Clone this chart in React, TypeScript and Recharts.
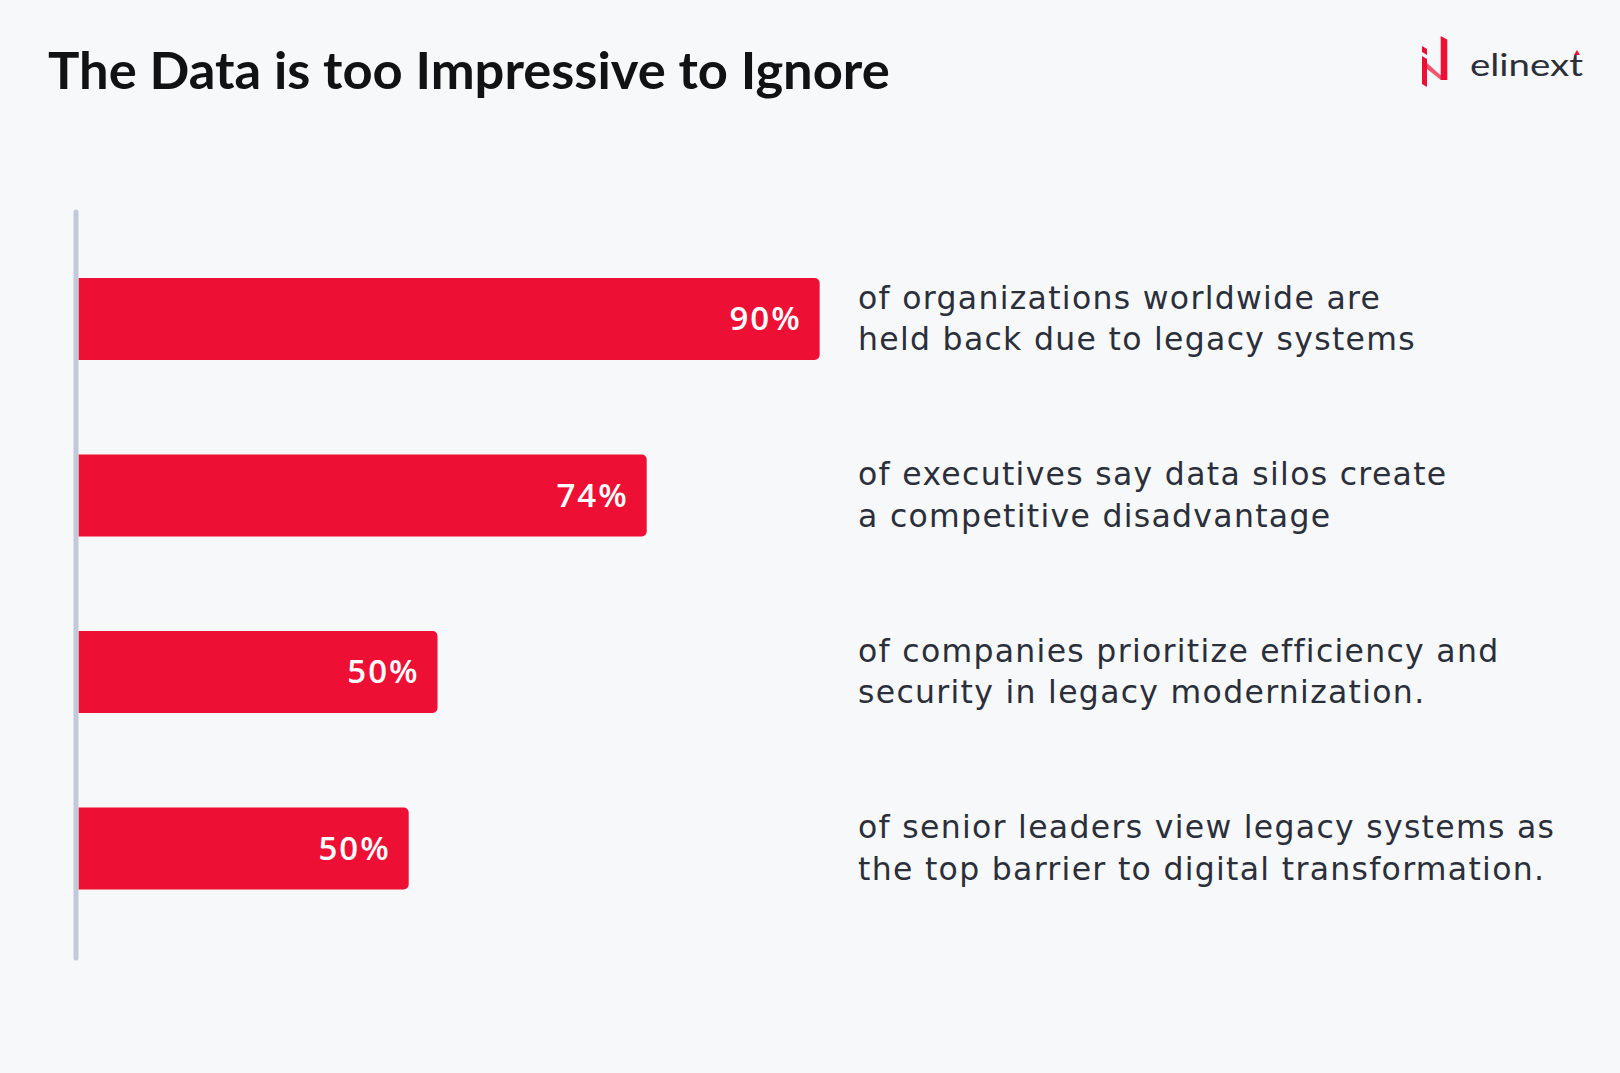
import React from "react";
import { BarChart, Bar, XAxis, YAxis, LabelList } from "recharts";

// values (bar lengths on a 0-100 scale) and the printed labels
const categories = ["organizations", "executives", "companies", "senior leaders"];
const barValues = [90, 69, 43.6, 40.1];
const percentLabels = ["90%", "74%", "50%", "50%"];
const firstLines = [
  "of organizations worldwide are",
  "of executives say data silos create",
  "of companies prioritize efficiency and",
  "of senior leaders view legacy systems as",
];
const secondLines = [
  "held back due to legacy systems",
  "a competitive disadvantage",
  "security in legacy modernization.",
  "the top barrier to digital transformation.",
];

const data = categories.map((name, i) => ({
  name,
  value: barValues[i],
  label: percentLabels[i],
  line1: firstLines[i],
  line2: secondLines[i],
}));

const BG = "#F7F8FA";
const RED = "#EE0F35";
const TEXT = "#2B2F3A";
const LABEL_FONT = "'Open Sans', 'Noto Sans', sans-serif";
const DESC_FONT = "'DejaVu Sans', 'Noto Sans', sans-serif";
const DESC_X = 858;

const PercentLabel = (props: any) => {
  const { x, y, width, height, value } = props;
  return (
    <text
      x={x + width - 18}
      y={y + height / 2 + 11}
      textAnchor="end"
      fill="#fff"
      fontSize={33}
      fontWeight={600}
      letterSpacing={2}
      fontFamily={LABEL_FONT}
    >
      {value}
    </text>
  );
};

const descLabel = (dy: number) => (props: any) => {
  const { y, height, value } = props;
  return (
    <text
      x={DESC_X}
      y={y + height / 2 + dy}
      fill={TEXT}
      fontSize={31.5}
      letterSpacing={1.3}
      fontFamily={DESC_FONT}
    >
      {value}
    </text>
  );
};

const Logo = () => (
  <svg
    width={180}
    height={70}
    style={{ position: "absolute", left: 1415, top: 28 }}
  >
    {/* mark */}
    <polygon points="7,18 12,21 12,27 7,24" fill={RED} />
    <polygon points="7,28 12,31 12,59 7,56" fill={RED} />
    <polygon points="12,35 12,41 26,52 31,52" fill="#F4566F" />
    <polygon points="25.7,8 32.3,11.5 32.3,52 25.7,52" fill={RED} />
    {/* wordmark */}
    <text
      x={55}
      y={48}
      fontSize={31}
      fill={TEXT}
      fontFamily="Lato, 'Noto Sans', sans-serif"
      textLength={113}
      lengthAdjust="spacingAndGlyphs"
    >
      elinext
    </text>
    <polygon points="159,27 165,27 162,22" fill={RED} />
  </svg>
);

export default function App() {
  return (
    <div
      style={{
        position: "absolute",
        left: 0,
        top: 0,
        width: 1620,
        height: 1073,
        background: BG,
        overflow: "hidden",
      }}
    >
      <div
        style={{
          position: "absolute",
          left: 48,
          top: 37,
          fontFamily: "Lato, 'Noto Sans', sans-serif",
          fontWeight: 700,
          fontSize: 52.5,
          color: "#111214",
          whiteSpace: "nowrap",
        }}
      >
        The Data is too Impressive to Ignore
      </div>
      <Logo />
      <BarChart
        width={1620}
        height={1073}
        data={data}
        layout="vertical"
        margin={{ top: 212, right: 718, bottom: 115, left: 66 }}
        style={{ position: "absolute", left: 0, top: 0 }}
      >
        <XAxis type="number" domain={[-0.3, 100]} hide />
        <YAxis
          type="category"
          dataKey="name"
          width={10}
          tick={false}
          tickLine={false}
          padding={{ top: 19, bottom: 21 }}
          axisLine={{ stroke: "#C2CAD7", strokeWidth: 5, strokeLinecap: "round" }}
        />
        <Bar
          dataKey="value"
          fill={RED}
          barSize={82}
          radius={[0, 5, 5, 0]}
          isAnimationActive={false}
        >
          <LabelList dataKey="label" content={PercentLabel} />
          <LabelList dataKey="line1" content={descLabel(-10.5)} />
          <LabelList dataKey="line2" content={descLabel(31)} />
        </Bar>
      </BarChart>
    </div>
  );
}
